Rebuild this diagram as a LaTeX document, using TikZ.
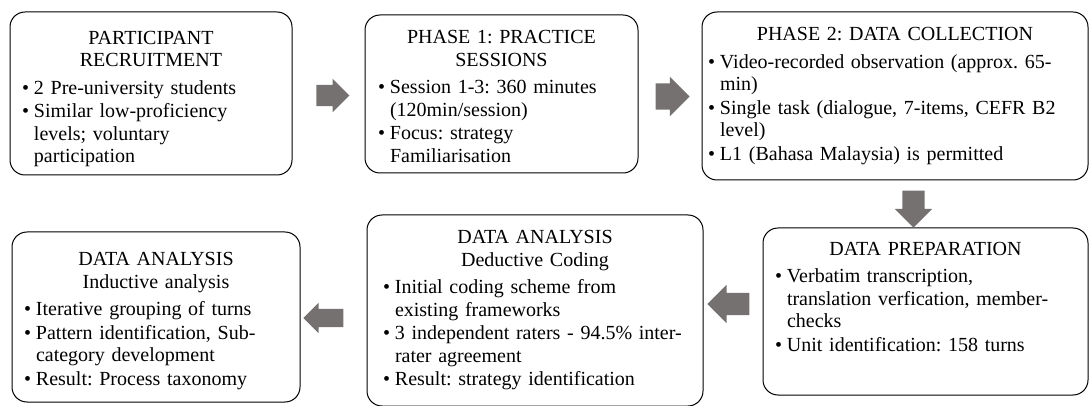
\documentclass[tikz,border=0pt]{standalone}
\usepackage{fontspec}
\setmainfont{Liberation Serif}
\usetikzlibrary{shapes.arrows}
\definecolor{arrowgray}{RGB}{118,113,113}
\frenchspacing
% optional argument: height of a strut on the first title line
\newcommand\stagetitle[2][0pt]{{\centering\rule{0pt}{#1}#2\par}\vspace{5pt}}
\newcommand\stageitem[1]{\par\hangindent=12pt\hangafter=1\noindent\makebox[12pt][l]{\textbullet}#1\par\vspace{1pt}}
\tikzset{
  stage/.style={draw, line width=1pt, rounded corners=15pt, inner ysep=0pt,
    font=\fontsize{20}{22.5}\selectfont, execute at begin node=\raggedright},
  flow/.style n args={3}{single arrow, fill=arrowgray, draw=none, inner sep=0pt,
    minimum height=#1, text height=#2, text depth=0pt, single arrow head extend=#3}
}
\begin{document}
\begin{tikzpicture}[x=1pt,y=-1pt]
\useasboundingbox (0,0) rectangle (1090,406);
%
% top row
\node[stage, text width=258pt, inner xsep=12pt, minimum height=163pt] (recruit) at (151,93.5) {%
\stagetitle[24pt]{PARTICIPANT\\RECRUITMENT}
\stageitem{2 Pre-university students}
\stageitem{Similar low-proficiency\newline levels; voluntary\newline participation}};
\node[stage, text width=247pt, inner xsep=13pt, minimum height=158pt] (practice) at (501.5,94) {%
\stagetitle[18pt]{PHASE 1: PRACTICE\\SESSIONS}
\stageitem{Session 1-3: 360 minutes\newline (120min/session)}
\stageitem{Focus: strategy\newline Familiarisation}};
\node[stage, text width=374pt, inner xsep=6pt, minimum height=168pt] (collect) at (895,96) {%
\stagetitle{PHASE 2: DATA COLLECTION}
\stageitem{Video-recorded observation (approx. 65-\newline min)}
\stageitem{Single task (dialogue, 7-items, CEFR B2\newline level)}
\stageitem{L1 (Bahasa Malaysia) is permitted}};
%
% bottom row
\node[stage, text width=301pt, inner xsep=12pt, minimum height=167pt] (prep) at (925.5,311.5) {%
\stagetitle{DATA PREPARATION}
\stageitem{Verbatim transcription,\newline translation verfication, member-\newline checks}
\stageitem{Unit identification: 158 turns\rule[-30pt]{0pt}{0pt}}};
\node[stage, text width=304pt, inner xsep=16pt, minimum height=191pt] (deduct) at (535,310.5) {%
\stagetitle{DATA ANALYSIS\\Deductive Coding}
\stageitem{Initial coding scheme from\newline existing frameworks}
\stageitem{3 independent raters - 94.5\% inter-\newline rater agreement}
\stageitem{Result: strategy identification}};
\node[stage, text width=264pt, inner xsep=12pt, minimum height=170pt] (induct) at (156,317) {%
\stagetitle[21pt]{DATA ANALYSIS\\Inductive analysis}
\stageitem{Iterative grouping of turns}
\stageitem{Pattern identification, Sub-\newline category development}
\stageitem{Result: Process taxonomy}};
%
% block arrows
\node[flow={33pt}{21pt}{6pt}] (a12) at (327.5,95.5) {};
\node[flow={34pt}{26pt}{6.5pt}] (a23) at (666,96.5) {};
\node[flow={37pt}{22pt}{7.5pt}, rotate=-90] (a36) at (913.5,203.5) {};
\node[flow={42pt}{22pt}{8pt}, rotate=180] (a65) at (734,304) {};
\node[flow={40pt}{18pt}{6pt}, rotate=180] (a54) at (328,318) {};
\end{tikzpicture}
\end{document}
